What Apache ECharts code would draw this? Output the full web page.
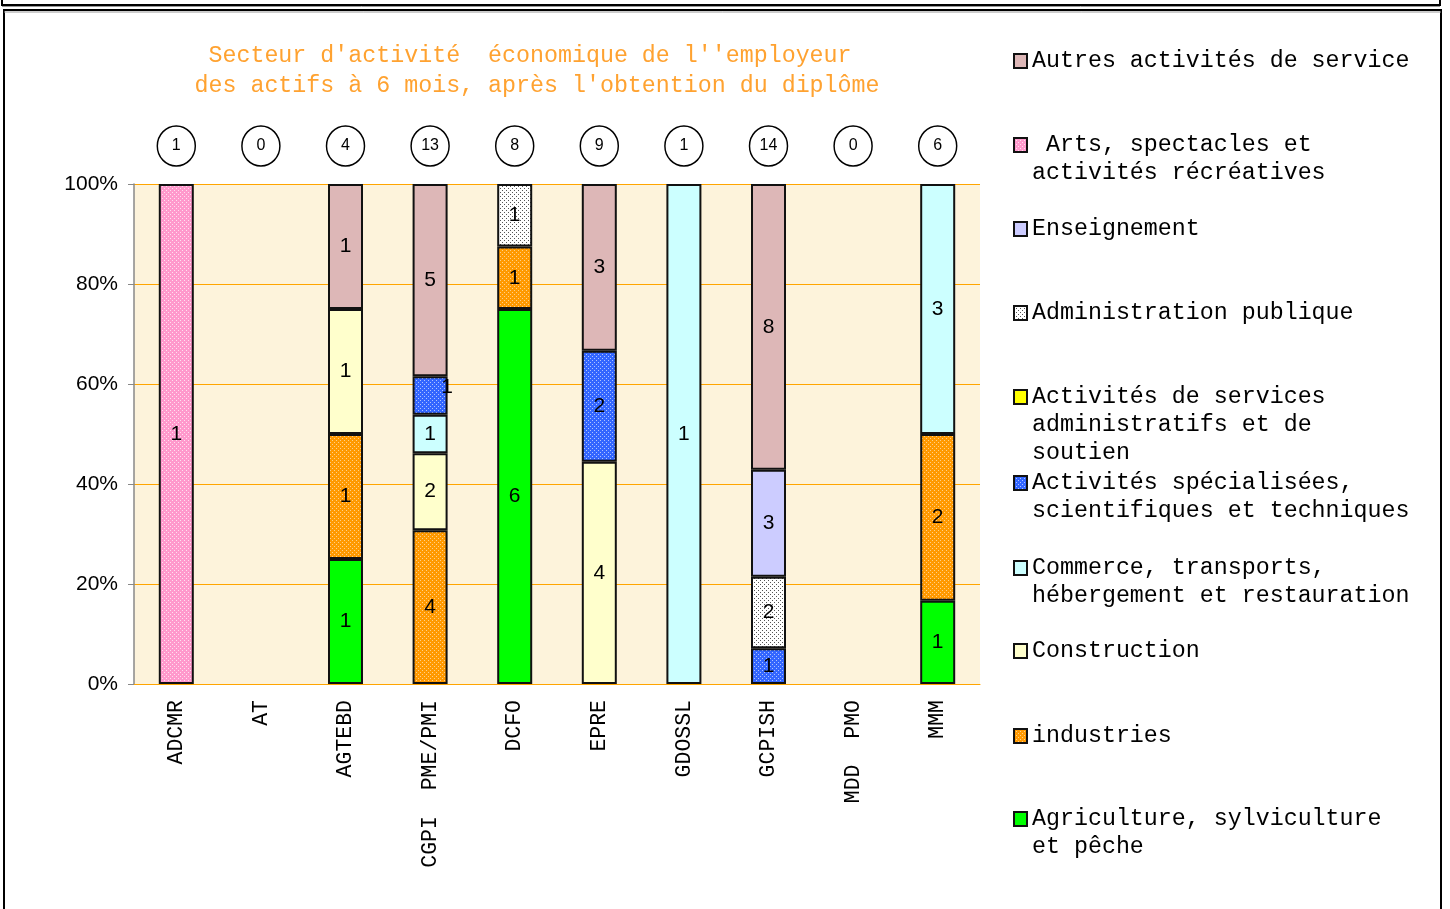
<!DOCTYPE html>
<html><head><meta charset="utf-8">
<script src="https://cdn.jsdelivr.net/npm/echarts@6/dist/echarts.min.js"></script>
<style>html,body{margin:0;padding:0;background:#fff}#c{width:1450px;height:909px}</style>
</head><body><div id="c"></div><script>
// ---- data ----
const categories = ['ADCMR','AT','AGTEBD','CGPI  PME/PMI','DCFO','EPRE','GDOSSL','GCPISH','MDD  PMO','MMM'];
const totals = [1,0,4,13,8,9,1,14,0,6];
const yTickLabels = ['0%','20%','40%','60%','80%','100%'];
const titleLines = ["Secteur d'activité  économique de l''employeur ", "des actifs à 6 mois, après l'obtention du diplôme"];
// series (bottom to top of the stack)
const agriculture   = [0,0,1,0,6,0,0,0,0,1];
const industries    = [0,0,1,4,1,0,0,0,0,2];
const construction  = [0,0,1,2,0,4,0,0,0,0];
const commerce      = [0,0,0,1,0,0,1,0,0,3];
const specialisees  = [0,0,0,1,0,2,0,1,0,0];
const servicesAdmin = [0,0,0,0,0,0,0,0,0,0];
const adminPublique = [0,0,0,0,1,0,0,2,0,0];
const enseignement  = [0,0,0,0,0,0,0,3,0,0];
const arts          = [1,0,0,0,0,0,0,0,0,0];
const autres        = [0,0,1,5,0,3,0,8,0,0];
const seriesNames = [
  'Agriculture, sylviculture et pêche',
  'industries',
  'Construction',
  'Commerce, transports, hébergement et restauration',
  'Activités spécialisées, scientifiques et techniques',
  'Activités de services administratifs et de soutien',
  'Administration publique',
  'Enseignement',
  ' Arts, spectacles et activités récréatives',
  'Autres activités de service'
];
const legendLines = [
  ['Agriculture, sylviculture','et pêche'],
  ['industries'],
  ['Construction'],
  ['Commerce, transports,','hébergement et restauration'],
  ['Activités spécialisées,','scientifiques et techniques'],
  ['Activités de services','administratifs et de','soutien'],
  ['Administration publique'],
  ['Enseignement'],
  [' Arts, spectacles et','activités récréatives'],
  ['Autres activités de service']
];
const seriesCounts = [agriculture, industries, construction, commerce, specialisees, servicesAdmin, adminPublique, enseignement, arts, autres];

// ---- styles ----
function dots(bg, dot, step, size){
  const c = document.createElement('canvas'); c.width = step; c.height = step;
  const g = c.getContext('2d'); g.fillStyle = bg; g.fillRect(0,0,step,step);
  g.fillStyle = dot; g.fillRect(0,0,size,size); g.fillRect(step/2,step/2,size,size);
  return {image: c, repeat: 'repeat'};
}
const fills = [
  '#00FF00',
  dots('#FF9900','#FFD08A',4,1),
  '#FFFFCC',
  '#CCFFFF',
  dots('#3366FF','#AFC4FF',4,1),
  '#FFFF00',
  dots('#FFFFFF','#555555',4,1),
  '#CCCCFF',
  dots('#FF99CC','#FFE0F0',4,1),
  '#DDB7B7'
];
const legendY = [819, 736, 651, 568, 483, 397, 313, 229, 145, 61];
const LH = 28;
// label nudges (style only): series index -> {dataIndex: offset}
const labelNudge = {4: {3: [17, -8]}};

const mono = 'Liberation Mono, Courier New, monospace';
const sans = 'Liberation Sans, Arial, sans-serif';

const series = seriesCounts.map((arr, si) => ({
  name: seriesNames[si],
  type: 'bar',
  stack: 'total',
  barWidth: 35,
  xAxisIndex: 0, yAxisIndex: 0,
  itemStyle: {color: fills[si], borderColor: '#111', borderWidth: 2},
  label: {
    show: true, position: 'inside', color: '#000', fontFamily: sans, fontSize: 21,
    formatter: p => String(arr[p.dataIndex])
  },
  data: arr.map((v, i) => {
    const val = (v > 0 && totals[i] > 0) ? v / totals[i] * 100 : null;
    const nudge = labelNudge[si] && labelNudge[si][i];
    return nudge ? {value: val, label: {offset: nudge}} : val;
  })
}));

series.push({
  type: 'scatter',
  xAxisIndex: 1, yAxisIndex: 1,
  symbol: 'circle', symbolSize: [38, 40],
  itemStyle: {color: '#fff', borderColor: '#000', borderWidth: 1.5, opacity: 1},
  label: {show: true, position: 'inside', color: '#000', fontFamily: sans, fontSize: 16,
    formatter: p => String(totals[p.dataIndex])},
  silent: true,
  data: totals.map((t, i) => [i, 0])
});

const legends = seriesNames.map((name, si) => {
  const lines = legendLines[si];
  const n = lines.length;
  const text = Array(n - 1).fill('').concat(lines).join('\n');
  return {
    data: [{name: name, icon: 'rect'}], left: 1013, top: legendY[si] - LH/2 - LH*(n-1), orient: 'vertical',
    padding: 0, itemWidth: 13, itemHeight: 14, itemGap: 0,
    selectedMode: false,
    formatter: () => text,
    textStyle: {fontFamily: mono, fontSize: 23.3, color: '#000', lineHeight: LH}
  };
});

const chart = echarts.init(document.getElementById('c'));
chart.setOption({
  animation: false,
  backgroundColor: '#fff',
  title: {
    text: titleLines.join('\n'), left: 537, top: 41, textAlign: 'center', padding: 0,
    textStyle: {fontFamily: mono, fontSize: 23.3, fontWeight: 'normal', color: '#FFA230', lineHeight: 30}
  },
  legend: legends,
  grid: [
    {left: 134, width: 846, top: 184, height: 500, show: true, backgroundColor: '#FDF3DB', borderWidth: 0},
    {left: 134, width: 846, top: 126, height: 40}
  ],
  xAxis: [
    {type: 'category', gridIndex: 0, data: categories,
     axisLine: {show: true, lineStyle: {color: '#FFA500', width: 1}},
     axisTick: {show: false},
     axisLabel: {rotate: 90, margin: 16, fontFamily: mono, fontSize: 21.5, color: '#000', interval: 0}},
    {type: 'category', gridIndex: 1, data: categories, show: false}
  ],
  yAxis: [
    {type: 'value', gridIndex: 0, min: 0, max: 100, interval: 20,
     axisLine: {show: true, lineStyle: {color: '#888', width: 1.5}},
     axisTick: {show: true, length: 6, inside: false, lineStyle: {color: '#888'}},
     axisLabel: {margin: 16, fontFamily: sans, fontSize: 21, color: '#000',
       formatter: (v) => yTickLabels[Math.round(v / 20)]},
     splitLine: {show: true, lineStyle: {color: '#FFA500', width: 1}}},
    {type: 'value', gridIndex: 1, min: -1, max: 1, show: false}
  ],
  graphic: [
    {type: 'rect', shape: {x: 2, y: -10, width: 1438, height: 15}, style: {fill: 'none', stroke: '#000', lineWidth: 2}},
    {type: 'line', shape: {x1: 2, y1: 6.5, x2: 1440, y2: 6.5}, style: {stroke: '#999', lineWidth: 1}},
    {type: 'rect', shape: {x: 4, y: 10, width: 1437, height: 910}, style: {fill: 'none', stroke: '#000', lineWidth: 2}},
    {type: 'line', shape: {x1: 4, y1: 12, x2: 1441, y2: 12}, style: {stroke: '#999', lineWidth: 1}}
  ],
  series: series
});
</script></body></html>
